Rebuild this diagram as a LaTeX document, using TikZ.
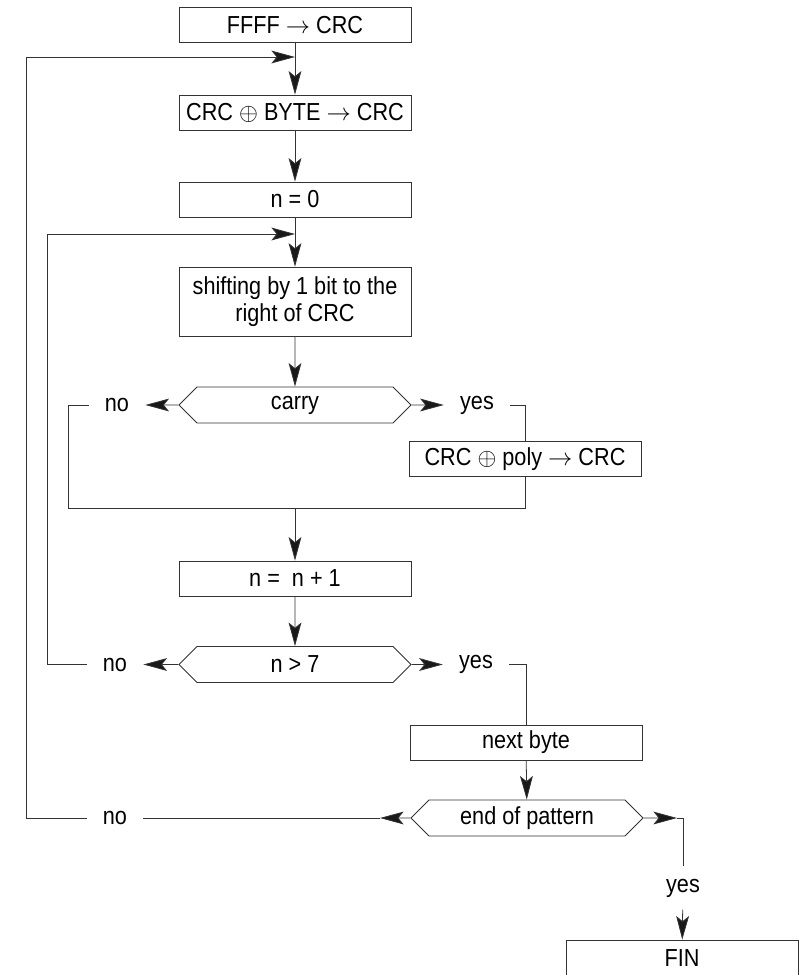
\documentclass[tikz,border=0pt]{standalone}
\usepackage{fontspec}
\setmainfont{Liberation Sans}[FakeStretch=0.88]
\usetikzlibrary{arrows.meta,shapes.symbols}

\begin{document}
\begin{tikzpicture}[x=0.025cm,y=-0.025cm,line width=0.55pt,draw=black!80,
  font=\fontsize{17.5}{19.5}\selectfont]
\tikzset{
  procbox/.style={draw,minimum width=5.8cm,minimum height=0.875cm,inner sep=1pt,align=center},
  decision/.style={draw,signal,signal to=east and west,minimum width=5.8cm,minimum height=0.9cm,inner sep=1pt},
  answer/.style={inner xsep=0.4cm,inner ysep=2pt},
  directed/.style={-{Stealth[length=5.9mm,width=3.2mm,inset=1.3mm,fill=black!90]}}
}
\clip (0,0) rectangle (804,975);
\node[procbox] (n_init) at (295,25) {FFFF $\rightarrow$ CRC};
\node[procbox] (n_xor) at (295,112.5) {CRC $\oplus$ BYTE $\rightarrow$ CRC};
\node[procbox] (n_zero) at (295,199.5) {n = 0};
\node[procbox,minimum height=1.72cm] (n_shift) at (295,301.5) {shifting by 1 bit to the\\right of CRC};
\node[decision] (n_carry) at (295,405) {carry};
\node[procbox] (n_poly) at (525,459) {CRC $\oplus$ poly $\rightarrow$ CRC};
\node[procbox] (n_inc) at (295,578.5) {n = \ n + 1};
\node[decision] (n_cmp) at (295,664.5) {n > 7};
\node[procbox] (n_next) at (526,742.5) {next byte};
\node[decision] (n_eop) at (527,818) {end of pattern};
\node[procbox,minimum height=0.9cm] (n_fin) at (682,958) {FIN};
\node[answer] (l_no1) at (117,405) {no};
\node[answer] (l_yes1) at (477,405) {yes};
\node[answer] (l_no2) at (115,664.5) {no};
\node[answer] (l_yes2) at (476,664.5) {yes};
\node[answer] (l_no3) at (115,818) {no};
\node[inner xsep=2pt,inner ysep=0.3cm] (l_yes3) at (683,888) {yes};
\coordinate (c_join1) at (295,57);
\coordinate (c_join2) at (295,234);
\coordinate (c_left1) at (26,818);
\coordinate (c_left2) at (47,664.5);
\coordinate (c_left3) at (68,405);
\coordinate (c_merge) at (525,508);
\coordinate (c_mid) at (295,508);
\coordinate (c_eopl) at (380,818);
\coordinate (c_eopr) at (677,818);
% main column
\draw[directed] (n_init) -- (n_xor);
\draw[directed] (n_xor) -- (n_zero);
\draw[directed] (n_zero) -- (n_shift);
\draw[directed] (n_shift) -- (n_carry);
\draw[directed] (c_mid) -- (n_inc);
\draw[directed] (n_inc) -- (n_cmp);
\draw[directed] (n_next) -- (n_eop);
% carry
\draw[directed] (n_carry) -- (l_no1);
\draw[directed] (n_carry) -- (l_yes1);
\draw (l_yes1) -| (n_poly);
\draw (l_no1) -- (c_left3) |- (c_merge) -- (n_poly);
% bit counter
\draw[directed] (n_cmp) -- (l_no2);
\draw[directed] (n_cmp) -- (l_yes2);
\draw[directed] (l_no2) -- (c_left2) |- (c_join2);
\draw (l_yes2) -| (n_next);
% end of pattern
\draw[directed] (n_eop) -- (c_eopl);
\draw (c_eopl) -- (l_no3);
\draw[directed] (l_no3) -- (c_left1) |- (c_join1);
\draw[directed] (n_eop) -- (c_eopr);
\draw (c_eopr) -| (l_yes3);
\draw[directed] (l_yes3) -- (n_fin);
\end{tikzpicture}
\end{document}
